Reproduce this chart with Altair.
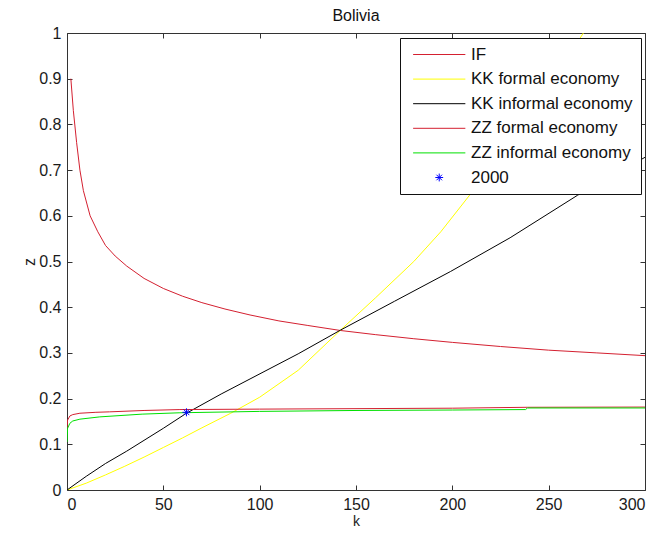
import altair as alt
import pandas as pd

# ---- data ----
series_names = ["IF", "KK formal economy", "KK informal economy",
                "ZZ formal economy", "ZZ informal economy", "2000"]
series_colors = ["#d42030", "#ffff00", "#000000", "#d42030", "#00e000", "#0000ff"]

if_k = [2, 3.3, 5, 6.7, 8.5, 12, 16, 20, 25, 31, 40, 50, 60, 70, 82, 95,
        110, 125, 142, 160, 180, 200, 225, 250, 275, 300]
if_z = [0.90, 0.83, 0.76, 0.70, 0.655, 0.60, 0.565, 0.535, 0.512, 0.49, 0.463,
        0.441, 0.424, 0.41, 0.396, 0.383, 0.37, 0.36, 0.349, 0.34, 0.331,
        0.323, 0.314, 0.306, 0.300, 0.294]

kkf_k = [0, 10, 20, 30, 40, 50, 60, 70, 85, 100, 120, 142, 160, 180, 194,
         211, 230, 250, 268]
kkf_z = [0, 0.015, 0.033, 0.052, 0.072, 0.093, 0.114, 0.136, 0.168, 0.203,
         0.262, 0.35, 0.42, 0.5, 0.565, 0.656, 0.76, 0.88, 1.0]

kki_k = [0, 10, 20, 31, 50, 62, 80, 95, 120, 142, 170, 199, 230, 265, 300]
kki_z = [0, 0.03, 0.058, 0.085, 0.135, 0.168, 0.21, 0.243, 0.298, 0.35,
         0.413, 0.478, 0.552, 0.645, 0.728]

zzf_k = [0, 0.3, 1.5, 3, 6.7, 15, 22, 40, 58.6, 100, 150, 200, 239, 300]
zzf_z = [0.135, 0.153, 0.162, 0.165, 0.168, 0.170, 0.171, 0.174, 0.176,
         0.177, 0.178, 0.179, 0.181, 0.1815]

zzi_k = [0, 0.3, 1.5, 3, 6.7, 17, 39, 58.6, 100, 150, 200, 238, 239, 300]
zzi_z = [0.105, 0.135, 0.146, 0.151, 0.155, 0.160, 0.166, 0.169, 0.172,
         0.174, 0.175, 0.176, 0.1795, 0.1795]

point_k = [62]
point_z = [0.17]

x_ticks = [0, 50, 100, 150, 200, 250, 300]
y_ticks = [0, 0.1, 0.2, 0.3, 0.4, 0.5, 0.6, 0.7, 0.8, 0.9, 1]

# ---- tables ----
rows = []
for name, ks, zs in [(series_names[0], if_k, if_z),
                     (series_names[1], kkf_k, kkf_z),
                     (series_names[2], kki_k, kki_z),
                     (series_names[3], zzf_k, zzf_z),
                     (series_names[4], zzi_k, zzi_z)]:
    for k, z in zip(ks, zs):
        rows.append({"series": name, "k": k, "z": z})
lines_df = pd.DataFrame(rows)
point_df = pd.DataFrame({"series": ["2000"] * len(point_k), "k": point_k, "z": point_z})
legend_df = pd.DataFrame({"series": series_names})

FONT = "Liberation Sans"
x_scale = alt.Scale(domain=[0, 300], nice=False, zero=False)
y_scale = alt.Scale(domain=[0, 1], nice=False, zero=False)
color_scale = alt.Scale(domain=series_names, range=series_colors)

line_sym = "M-1,0L8.7,0"
legend_star = ("M3.123,0L4.577,0M3.85,-0.727L3.85,0.727M3.336,-0.514L4.364,0.514"
               "M3.336,0.514L4.364,-0.514")
plot_star = ("M-1,0L1,0M0,-1L0,1M-0.707,-0.707L0.707,0.707"
             "M-0.707,0.707L0.707,-0.707")
shape_scale = alt.Scale(domain=series_names, range=[line_sym] * 5 + [legend_star])

legend_props = dict(title=None, orient="none", legendX=333, legendY=5,
                    fillColor="white", strokeColor="#111111", padding=8,
                    rowPadding=6.6, symbolSize=116, symbolStrokeWidth=1,
                    labelFont=FONT, labelFontSize=17, labelColor="#111111",
                    labelOffset=44, symbolOffset=2, labelLimit=400)
legend = alt.Legend(**legend_props)

lines = alt.Chart(lines_df).mark_line(strokeWidth=1, clip=True).encode(
    x=alt.X("k:Q", scale=x_scale,
            axis=alt.Axis(values=x_ticks, orient="bottom", offset=-5, tickSize=5,
                          domain=False, grid=False, labelPadding=6, format="d",
                          title="k", titlePadding=2, titleFontSize=14)),
    y=alt.Y("z:Q", scale=y_scale,
            axis=alt.Axis(values=y_ticks, orient="left", offset=-5, tickSize=5,
                          domain=False, grid=False, labelPadding=6, format="~g",
                          title="z", titlePadding=1)),
    color=alt.Color("series:N", scale=color_scale, legend=legend),
)

star = alt.Chart(point_df).mark_point(shape=plot_star, size=64, filled=False,
                                      strokeWidth=1, opacity=1).encode(
    x=alt.X("k:Q", scale=x_scale,
            axis=alt.Axis(values=x_ticks, orient="top", offset=-5, tickSize=5,
                          domain=False, grid=False, labels=False, title=None)),
    y=alt.Y("z:Q", scale=y_scale,
            axis=alt.Axis(values=y_ticks, orient="right", offset=-5, tickSize=5,
                          domain=False, grid=False, labels=False, title=None)),
    color=alt.Color("series:N", scale=color_scale, legend=legend),
)

# layer that only carries the legend symbols (zero-size marks)
legend_layer = alt.Chart(legend_df).mark_point(
    filled=False, opacity=1, strokeWidth=1).encode(
    x=alt.value(0),
    y=alt.value(0),
    size=alt.value(0),
    color=alt.Color("series:N", scale=color_scale, legend=legend),
    shape=alt.Shape("series:N", scale=shape_scale, legend=legend),
)

chart = alt.layer(lines, star, legend_layer).resolve_axis(
    x="independent", y="independent"
).properties(
    width=578, height=457, autosize="none",
    padding={"left": 59, "top": 25, "right": 7, "bottom": 40},
    title=alt.TitleParams("Bolivia", font=FONT, fontSize=16, fontWeight="normal",
                          color="#111111", offset=1, anchor="middle"),
).configure_axis(
    labelFont=FONT, labelFontSize=16, labelColor="#1a1a1a",
    titleFont=FONT, titleFontSize=16, titleFontWeight="normal", titleColor="#1a1a1a",
    tickColor="#333333", tickWidth=1,
).configure_view(stroke="#333333", strokeWidth=1)

chart.save("out.html", embed_options={"renderer": "svg", "actions": False})
